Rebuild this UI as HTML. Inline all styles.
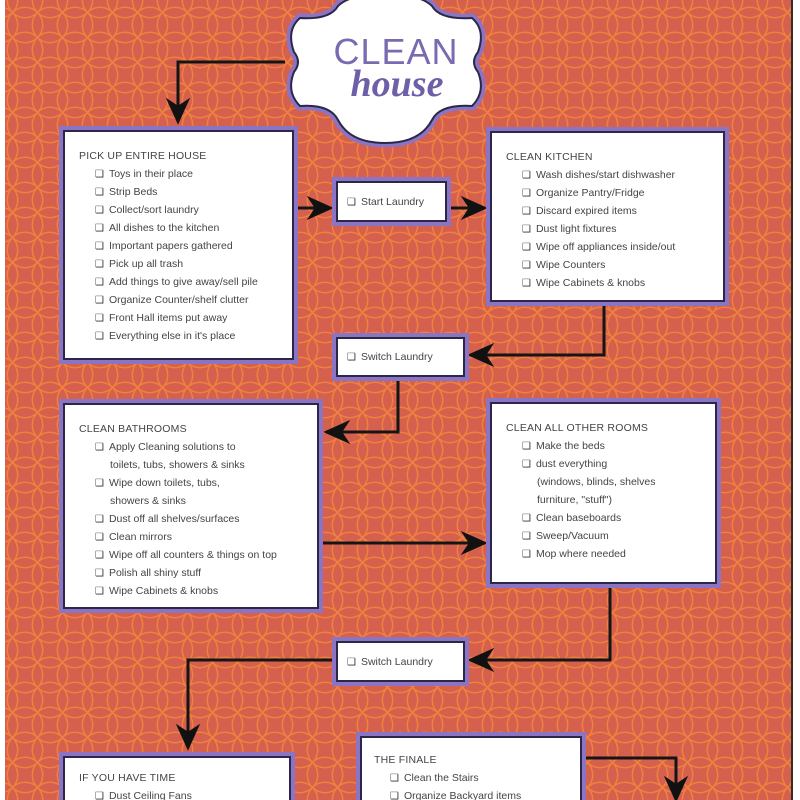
<!DOCTYPE html>
<html><head><meta charset="utf-8"><style>
html,body{margin:0;width:800px;height:800px;overflow:hidden;background:#fff;font-family:"Liberation Sans",sans-serif}
#w{position:relative;width:800px;height:800px;overflow:hidden}
.bx{position:absolute;background:#fff;border:2px solid #2b2748;box-shadow:0 0 0 4px #8b74c4;box-sizing:border-box;color:#444;font-size:10.5px;}
.h{position:absolute;letter-spacing:0.2px}
ul{list-style:none;margin:0;padding:0;position:absolute}
li{height:18px;line-height:18px;white-space:nowrap}
li:before{content:"❑";margin-right:5px;font-size:10px;color:#333}
li.c:before{content:"";margin-right:15px}
</style></head><body><div id="w">
<svg width="800" height="800" style="position:absolute;left:0;top:0">
<defs>
<pattern id="p" width="25" height="25" patternUnits="userSpaceOnUse">
<rect width="25" height="25" fill="#d5604e"/>
<g fill="none" stroke="#f0813c" stroke-width="1.5">
<circle cx="0" cy="0" r="17.7"/><circle cx="25" cy="0" r="17.7"/><circle cx="0" cy="25" r="17.7"/><circle cx="25" cy="25" r="17.7"/>
</g></pattern>
<marker id="a" viewBox="0 0 20 20" refX="18" refY="10" markerWidth="9" markerHeight="9" orient="auto" markerUnits="strokeWidth"><path d="M0,1 L20,10 L0,19 L6,10 Z" fill="#111"/></marker>
</defs>
<rect x="5" y="0" width="788" height="800" fill="url(#p)"/>
<line x1="792" y1="0" x2="792" y2="800" stroke="#3a2a2a" stroke-width="2"/>
<g fill="none" stroke="#151515" stroke-width="3">
<polyline points="285,62 178,62 178,122" marker-end="url(#a)"/>
<line x1="297" y1="208" x2="331" y2="208" marker-end="url(#a)"/>
<line x1="450" y1="208" x2="485" y2="208" marker-end="url(#a)"/>
<polyline points="604,305 604,355 470,355" marker-end="url(#a)"/>
<polyline points="398,380 398,432 326,432" marker-end="url(#a)"/>
<line x1="322" y1="543" x2="485" y2="543" marker-end="url(#a)"/>
<polyline points="610,587 610,660 470,660" marker-end="url(#a)"/>
<polyline points="333,660 188,660 188,748" marker-end="url(#a)"/>
<polyline points="585,758 676,758 676,800" marker-end="url(#a)"/>
</g>
<path d="M300,18 Q330,20 338,6 Q350,-6 385,-6 Q420,-6 432,6 Q440,20 472,18 Q486,30 478,52 Q470,62 478,72 Q486,92 472,106 Q440,104 432,120 Q420,143 385,143 Q350,143 338,120 Q330,104 300,106 Q286,92 294,72 Q302,62 294,52 Q286,30 300,18 Z" fill="#fff" stroke="#8b74c4" stroke-width="9"/>
<path d="M300,18 Q330,20 338,6 Q350,-6 385,-6 Q420,-6 432,6 Q440,20 472,18 Q486,30 478,52 Q470,62 478,72 Q486,92 472,106 Q440,104 432,120 Q420,143 385,143 Q350,143 338,120 Q330,104 300,106 Q286,92 294,72 Q302,62 294,52 Q286,30 300,18 Z" fill="#fff" stroke="#2b2748" stroke-width="2"/>
<text x="396" y="64" text-anchor="middle" font-family="Liberation Sans,sans-serif" font-size="36" fill="#7a6bb0" letter-spacing="1">CLEAN</text>
<text x="397" y="96" text-anchor="middle" font-family="Liberation Serif,serif" font-style="italic" font-weight="bold" font-size="38" fill="#6f5fa8">house</text>
</svg>

<div class="bx" style="left:63px;top:130px;width:231px;height:230px"><div class="h" style="left:14px;top:18px">PICK UP ENTIRE HOUSE</div>
<ul style="left:30px;top:33px"><li>Toys in their place</li><li>Strip Beds</li><li>Collect/sort laundry</li><li>All dishes to the kitchen</li><li>Important papers gathered</li><li>Pick up all trash</li><li>Add things to give away/sell pile</li><li>Organize Counter/shelf clutter</li><li>Front Hall items put away</li><li>Everything else in it's place</li></ul></div>

<div class="bx" style="left:336px;top:181px;width:111px;height:41px"><ul style="left:9px;top:10px"><li>Start Laundry</li></ul></div>

<div class="bx" style="left:490px;top:131px;width:235px;height:171px"><div class="h" style="left:14px;top:18px">CLEAN KITCHEN</div>
<ul style="left:30px;top:33px"><li>Wash dishes/start dishwasher</li><li>Organize Pantry/Fridge</li><li>Discard expired items</li><li>Dust light fixtures</li><li>Wipe off appliances inside/out</li><li>Wipe Counters</li><li>Wipe Cabinets &amp; knobs</li></ul></div>

<div class="bx" style="left:336px;top:337px;width:129px;height:40px"><ul style="left:9px;top:9px"><li>Switch Laundry</li></ul></div>

<div class="bx" style="left:63px;top:403px;width:256px;height:206px"><div class="h" style="left:14px;top:18px">CLEAN BATHROOMS</div>
<ul style="left:30px;top:33px"><li>Apply Cleaning solutions to</li><li class="c">toilets, tubs, showers &amp; sinks</li><li>Wipe down toilets, tubs,</li><li class="c">showers &amp; sinks</li><li>Dust off all shelves/surfaces</li><li>Clean mirrors</li><li>Wipe off all counters &amp; things on top</li><li>Polish all shiny stuff</li><li>Wipe Cabinets &amp; knobs</li></ul></div>

<div class="bx" style="left:490px;top:402px;width:227px;height:182px"><div class="h" style="left:14px;top:18px">CLEAN ALL OTHER ROOMS</div>
<ul style="left:30px;top:33px"><li>Make the beds</li><li>dust everything</li><li class="c">(windows, blinds, shelves</li><li class="c">furniture, "stuff")</li><li>Clean baseboards</li><li>Sweep/Vacuum</li><li>Mop where needed</li></ul></div>

<div class="bx" style="left:336px;top:641px;width:129px;height:41px"><ul style="left:9px;top:10px"><li>Switch Laundry</li></ul></div>

<div class="bx" style="left:63px;top:756px;width:228px;height:60px"><div class="h" style="left:14px;top:14px">IF YOU HAVE TIME</div>
<ul style="left:30px;top:29px"><li>Dust Ceiling Fans</li></ul></div>

<div class="bx" style="left:360px;top:736px;width:222px;height:80px"><div class="h" style="left:12px;top:16px">THE FINALE</div>
<ul style="left:28px;top:31px"><li>Clean the Stairs</li><li>Organize Backyard items</li></ul></div>
</div></body></html>
